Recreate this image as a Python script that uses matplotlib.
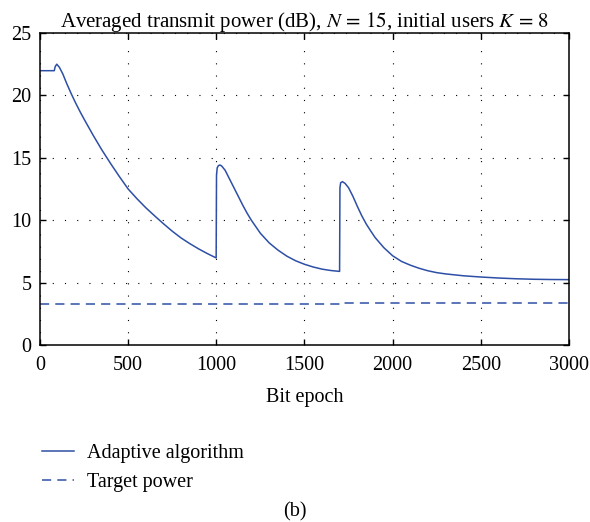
import matplotlib
matplotlib.use("Agg")
import matplotlib.pyplot as plt

# adaptive algorithm (bit epoch, dB)
adaptiveX = [0, 81, 86, 95, 110, 130, 150, 175, 200, 227, 250, 300, 350, 400, 450, 500, 550, 600, 650, 700, 750, 800, 850, 900, 950, 999,
             1001, 1005, 1012, 1021, 1030, 1050, 1075, 1100, 1125, 1150, 1175, 1200, 1250, 1300, 1350, 1400, 1450, 1500, 1550, 1600, 1650, 1699,
             1701, 1705, 1715, 1730, 1750, 1775, 1800, 1825, 1850, 1875, 1900, 1950, 2000, 2050, 2100, 2150, 2200, 2250, 2300, 2400, 2500,
             2600, 2700, 2800, 2900, 3000]
adaptiveY = [21.98, 21.98, 22.3, 22.5, 22.25, 21.7, 21.0, 20.2, 19.45, 18.7, 18.1, 16.84, 15.65, 14.55, 13.5, 12.5, 11.72, 11.0, 10.35, 9.72, 9.12, 8.58, 8.12, 7.7, 7.32, 6.98,
             13.6, 14.2, 14.38, 14.42, 14.35, 14.0, 13.3, 12.6, 11.9, 11.2, 10.55, 9.97, 8.95, 8.18, 7.6, 7.12, 6.75, 6.47, 6.25, 6.08, 5.97, 5.9,
             12.6, 13.0, 13.09, 12.95, 12.6, 11.9, 11.1, 10.35, 9.7, 9.15, 8.62, 7.8, 7.15, 6.7, 6.4, 6.15, 5.95, 5.8, 5.7, 5.55, 5.45,
             5.37, 5.31, 5.27, 5.25, 5.24]

# target power
targetX = [0, 1000, 1000, 1700, 1700, 3000]
targetY = [3.32, 3.32, 3.26, 3.26, 3.38, 3.38]

xTicks = [0, 500, 1000, 1500, 2000, 2500, 3000]
yTicks = [0, 5, 10, 15, 20, 25]

lineColor = "#2d4fa6"

plt.rcParams["font.family"] = ["Liberation Serif", "DejaVu Serif"]
plt.rcParams["mathtext.fontset"] = "stix"
plt.rcParams["font.size"] = 14.5

fig = plt.figure(figsize=(5.9, 5.22), dpi=100)
ax = fig.add_axes([0.0678, 0.339, 0.8966, 0.5978])

ax.plot(adaptiveX, adaptiveY, color=lineColor, linewidth=1.1, label="Adaptive algorithm")
ax.plot(targetX, targetY, color=lineColor, linewidth=1.1, linestyle=(0, (6, 4)), label="Target power")

ax.set_xlim(0, 3000)
ax.set_ylim(0, 25)
ax.set_xticks(xTicks)
ax.set_yticks(yTicks)
ax.tick_params(direction="in", top=True, right=True, length=4, width=1.0, labelsize=14.5)
ax.tick_params(axis="x", pad=8)
ax.tick_params(axis="y", pad=6)
for spine in ax.spines.values():
    spine.set_linewidth(1.1)
ax.grid(True, color="black", linestyle=(0, (1, 10)), linewidth=0.8)

ax.set_title("Averaged transmit power (dB), $N\\,=\\,15$, initial users $K\\,=\\,8$", fontsize=15, pad=4)
ax.set_xlabel("Bit epoch", fontsize=14.5, labelpad=9)

fig.legend(loc="center left", bbox_to_anchor=(0.071, 0.103), frameon=False, fontsize=14.5,
           borderpad=0, borderaxespad=0, handlelength=1.6, handletextpad=0.65, labelspacing=0.5)
fig.text(0.5, 0.02, "(b)", ha="center", va="center", fontsize=14.5)

fig.savefig("out.png", dpi=100)
